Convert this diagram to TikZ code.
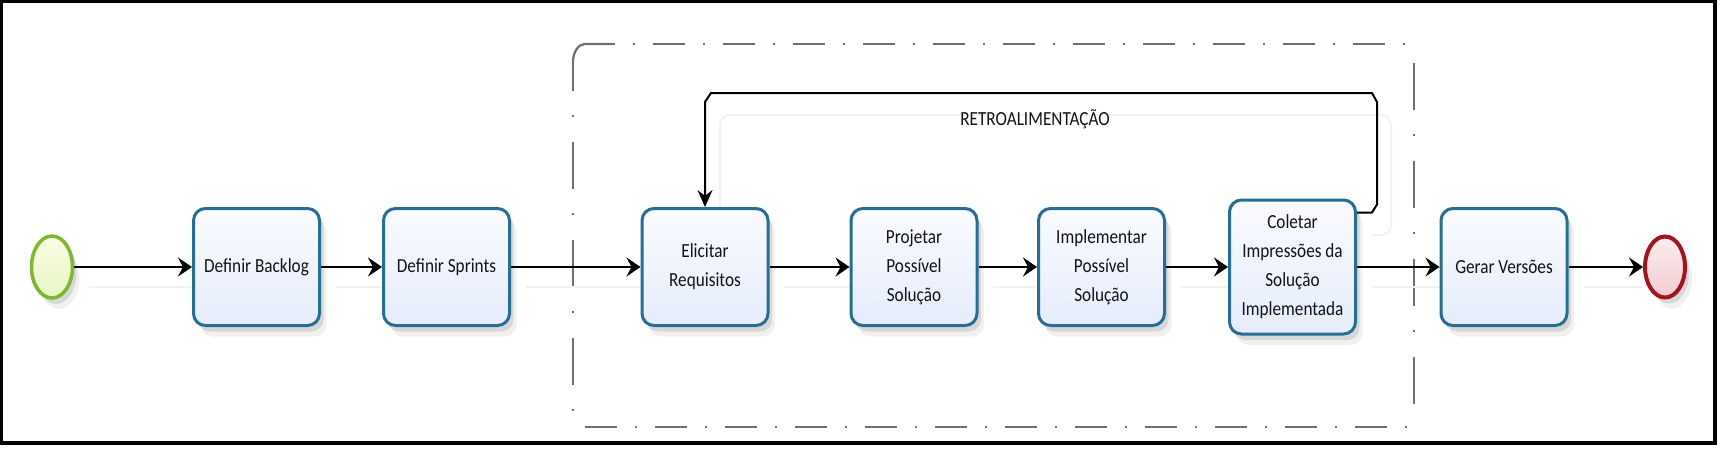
\documentclass[tikz,border=0pt]{standalone}
\usepackage{fontspec}
\setmainfont{Carlito}[FakeStretch=0.86]
\usetikzlibrary{arrows.meta,shapes.geometric,shadows}
\definecolor{boxline}{RGB}{38,110,150}
\definecolor{boxtop}{RGB}{249,251,255}
\definecolor{boxbot}{RGB}{229,236,251}
\definecolor{startline}{RGB}{124,184,47}
\definecolor{starttop}{RGB}{250,253,228}
\definecolor{startbot}{RGB}{232,245,196}
\definecolor{endline}{RGB}{165,20,30}
\definecolor{endtop}{RGB}{252,236,237}
\definecolor{endbot}{RGB}{240,205,208}
\definecolor{grpline}{RGB}{112,112,112}
\definecolor{txt}{RGB}{20,20,20}
\tikzset{
  softshadow/.style={drop shadow={shadow xshift=4pt,shadow yshift=-6pt,opacity=.10,fill=black},
                     drop shadow={shadow xshift=7pt,shadow yshift=-11pt,opacity=.06,fill=black}},
  taskbox/.style={rectangle, rounded corners=12pt, draw=boxline, line width=3pt,
    top color=boxtop, bottom color=boxbot, minimum width=126pt, minimum height=117pt,
    inner sep=2pt, align=center, text=txt, font=\fontsize{20}{29}\selectfont, softshadow},
  startev/.style={ellipse, draw=startline, line width=3.5pt, top color=starttop, bottom color=startbot,
    minimum width=41pt, minimum height=62pt, inner sep=0pt, softshadow},
  endev/.style={ellipse, draw=endline, line width=4pt, top color=endtop, bottom color=endbot,
    minimum width=40pt, minimum height=61pt, inner sep=0pt, softshadow},
  conn/.style={draw=black, line width=2pt, -{Stealth[length=14pt,width=19pt,inset=5pt]}},
  connv/.style={draw=black, line width=2pt, -{Stealth[length=17pt,width=15pt,inset=6pt]}},
  connshadow/.style={draw=black!5, line width=2pt},
  grph/.style={draw=grpline, line width=2.2pt, dash pattern=on 32pt off 18pt on 2pt off 18pt},
  grpv/.style={draw=grpline, line width=2.2pt, dash pattern=on 47pt off 24pt on 2pt off 25pt},
  lbl/.style={text=txt, font=\fontsize{20}{24}\selectfont, inner sep=0pt}
}
\begin{document}
\begin{tikzpicture}[x=1pt,y=-1pt]
\useasboundingbox (0,0) rectangle (1724,450);
\fill[white] (0,0) rectangle (1724,450);
% outer frame
\draw[black, line width=3.5pt] (1.5,1.6) rectangle (1715,443);

% group (dash-dot rounded box)
\draw[grpline, line width=2.2pt] (573,62) arc[start angle=180, end angle=270, x radius=12, y radius=18] -- (612,44);
\draw[grph] (583,44) -- (1406,44);
\draw[grph] (585,427) -- (1408,427);
\draw[grpv, dash phase=18pt] (573,62) -- (573,412);
\draw[grpv] (1414,63) -- (1414,406);

% faint connector shadows
\draw[connshadow] (89,287) -- (192,287);
\draw[connshadow] (336,287) -- (382,287);
\draw[connshadow] (526,287) -- (641,287);
\draw[connshadow] (784,287) -- (850,287);
\draw[connshadow] (993,287) -- (1037,287);
\draw[connshadow] (1181,287) -- (1228,287);
\draw[connshadow] (1372,287) -- (1440,287);
\draw[connshadow] (1584,287) -- (1643,287);
\draw[connshadow, rounded corners=10pt] (1372,235) -- (1391,235) -- (1391,115) -- (720,115) -- (720,229);

% nodes
\node[startev] (start) at (52,267) {};
\node[taskbox] (backlog) at (256.5,267) {Definir Backlog};
\node[taskbox] (sprints) at (446.5,267) {Definir Sprints};
\node[taskbox] (elicitar) at (705,267) {Elicitar\\Requisitos};
\node[taskbox] (projetar) at (914,267) {Projetar\\Possível\\Solução};
\node[taskbox] (implementar) at (1101.5,267) {Implementar\\Possível\\Solução};
\node[taskbox, minimum height=134pt] (coletar) at (1292.5,267) {Coletar\\Impressões da\\Solução\\Implementada};
\node[taskbox] (gerar) at (1504,267) {Gerar Versões};
\node[endev] (end) at (1665,267) {};

% connectors
\draw[conn] (start) -- (backlog);
\draw[conn] (backlog) -- (sprints);
\draw[conn] (sprints) -- (elicitar);
\draw[conn] (elicitar) -- (projetar);
\draw[conn] (projetar) -- (implementar);
\draw[conn] (implementar) -- (coletar);
\draw[conn] (coletar) -- (gerar);
\draw[conn] (gerar) -- (end);

% feedback loop
\coordinate (fbR) at (1377,93);
\coordinate (fbL) at (705,93);
\draw[connv] ([yshift=-14pt]coletar.north east) -- ++(15,0) -- ++(5,-8)
  -- ([yshift=-9pt]fbR) -- ([xshift=-5pt]fbR) -- ([xshift=6pt]fbL)
  -- ([yshift=-9pt]fbL) -- (elicitar.north);
\node[lbl] (retro) at (1035,119) {RETROALIMENTAÇÃO};
\end{tikzpicture}
\end{document}
